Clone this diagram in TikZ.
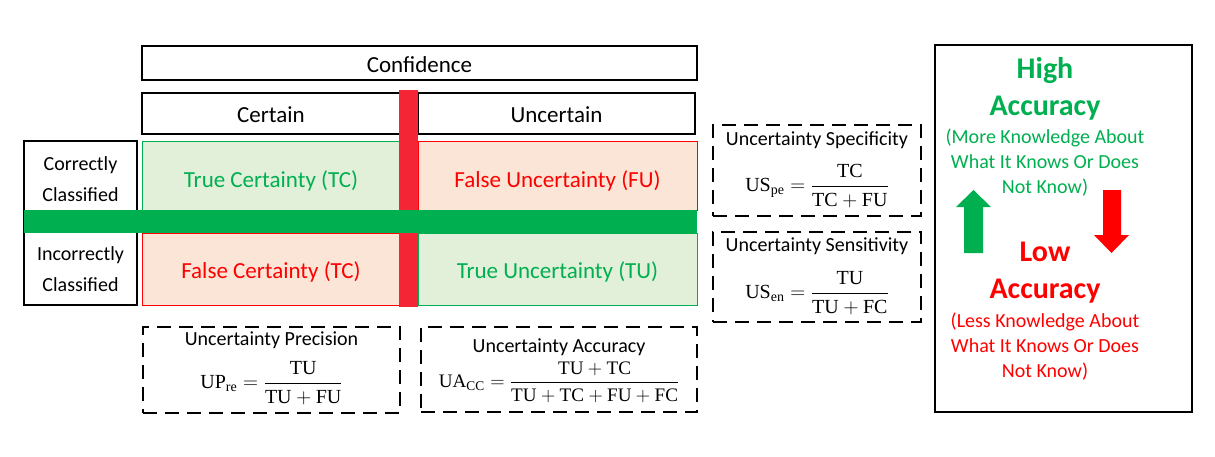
\documentclass[tikz,border=0pt]{standalone}
\usepackage{amsmath}
\usepackage{fontspec}
\setmainfont{Carlito}
\setmathrm{Liberation Serif}
\usetikzlibrary{positioning}
\definecolor{ogreen}{HTML}{00B050}
\definecolor{ored}{HTML}{FF0000}
\definecolor{barred}{HTML}{F42535}
\definecolor{lgreen}{HTML}{E2F0D9}
\definecolor{lred}{HTML}{FBE5D6}
\begin{document}
\begin{tikzpicture}[x=1pt,y=-1pt,
  solidbox/.style={draw=black,line width=2pt,inner sep=0pt},
  bigtext/.style={inner sep=0pt,font=\fontsize{23}{28}\selectfont},
  cellg/.style={draw=ogreen,line width=1pt,fill=lgreen,inner sep=0pt},
  cellr/.style={draw=ored,line width=1pt,fill=lred,inner sep=0pt},
  dbox/.style={draw=black,line width=2.4pt,dash pattern=on 14pt off 8pt,inner sep=0pt},
  lbl/.style={inner sep=0pt,font=\fontsize{20}{24}\selectfont},
  frm/.style={inner sep=0pt,font=\fontsize{20}{24}\selectfont},
]
\useasboundingbox[fill=white] (0,0) rectangle (1215,456);
% header
\node[solidbox,minimum width=555pt,minimum height=34pt] (conf) at (419.5,63) {};
\node[bigtext] (conft) at (419.5,64.5) {Confidence};
\node[solidbox,minimum width=258pt,minimum height=41pt] (cert) at (271,113.5) {};
\node[bigtext] (certt) at (271,115) {Certain};
\node[solidbox,minimum width=277pt,minimum height=41pt] (unc) at (556.5,113.5) {};
\node[bigtext] (unct) at (556.5,115) {Uncertain};
% row labels
\node[solidbox,minimum width=113pt,minimum height=164pt] (rows) at (80.5,223) {};
\node[lbl,align=center,font=\fontsize{20}{31}\selectfont] (corr) at (80.5,179) {Correctly\\Classified};
\node[lbl,align=center,font=\fontsize{20}{31}\selectfont] (incorr) at (80.5,269) {Incorrectly\\Classified};
% cells
\node[cellg,minimum width=258pt,minimum height=69pt] (tc) at (271,175.5) {};
\node[cellr,minimum width=279pt,minimum height=69pt] (fu) at (557.5,175.5) {};
\node[cellr,minimum width=258pt,minimum height=72pt] (fc) at (271,269) {};
\node[cellg,minimum width=279pt,minimum height=72pt] (tu) at (557.5,269) {};
\node[bigtext,text=ogreen] (tct) at ([yshift=-5pt]tc.center) {True Certainty (TC)};
\node[bigtext,text=ored] (fut) at ([yshift=-5pt]fu.center) {False Uncertainty (FU)};
\node[bigtext,text=ored] (fct) at ([yshift=-3pt]fc.center) {False Certainty (TC)};
\node[bigtext,text=ogreen] (tut) at ([yshift=-3pt]tu.center) {True Uncertainty (TU)};
% bars
\fill[barred] (399,90) rectangle (418,307);
\fill[ogreen] (24,210) rectangle (697,233);
% dashed metric boxes
\node[dbox,minimum width=257pt,minimum height=86pt] (prec) at (271.5,370) {};
\node[lbl] (prect) at (271.5,340) {Uncertainty Precision};
\node[frm] (precf) at (271.5,383) {$\mathrm{UP_{re}}=\dfrac{\mathrm{TU}}{\mathrm{TU+FU}}$};
\node[dbox,minimum width=276pt,minimum height=85pt] (acc) at (559,369.5) {};
\node[lbl] (acct) at (559,347) {Uncertainty Accuracy};
\node[frm] (accf) at (559,382) {\scalebox{0.955}{$\mathrm{UA_{CC}}=\dfrac{\mathrm{TU+TC}}{\mathrm{TU+TC+FU+FC}}$}};
\node[dbox,minimum width=208pt,minimum height=91pt] (spec) at (817,170.5) {};
\node[lbl] (spect) at (817,140) {Uncertainty Specificity};
\node[frm] (specf) at (817,186) {$\mathrm{US_{pe}}=\dfrac{\mathrm{TC}}{\mathrm{TC+FU}}$};
\node[dbox,minimum width=208pt,minimum height=90pt] (sens) at (817,277) {};
\node[lbl] (senst) at (817,246) {Uncertainty Sensitivity};
\node[frm] (sensf) at (817,293) {$\mathrm{US_{en}}=\dfrac{\mathrm{TU}}{\mathrm{TU+FC}}$};
% right panel
\node[solidbox,minimum width=257pt,minimum height=367pt] (panel) at (1063.5,228.5) {};
\node[inner sep=0pt,align=center,text=ogreen,font=\fontsize{30}{37}\selectfont\bfseries] (high) at (1045,89) {High\\Accuracy};
\node[inner sep=0pt,align=center,text=ogreen,font=\fontsize{20}{25}\selectfont] (highd) at (1045,162.5) {(More Knowledge About\\What It Knows Or Does\\Not Know)};
\node[inner sep=0pt,align=center,text=ored,font=\fontsize{30}{37}\selectfont\bfseries] (low) at (1045,273) {Low\\Accuracy};
\node[inner sep=0pt,align=center,text=ored,font=\fontsize{20}{25}\selectfont] (lowd) at (1045,346.5) {(Less Knowledge About\\What It Knows Or Does\\Not Know)};
% arrows
\fill[ogreen] (964,253) -- (964,207) -- (956,207) -- (973.5,190) -- (991,207) -- (983,207) -- (983,253) -- cycle;
\fill[ored] (1103,190) -- (1103,235) -- (1094,235) -- (1111.5,253) -- (1129,235) -- (1121,235) -- (1121,190) -- cycle;
\end{tikzpicture}
\end{document}
